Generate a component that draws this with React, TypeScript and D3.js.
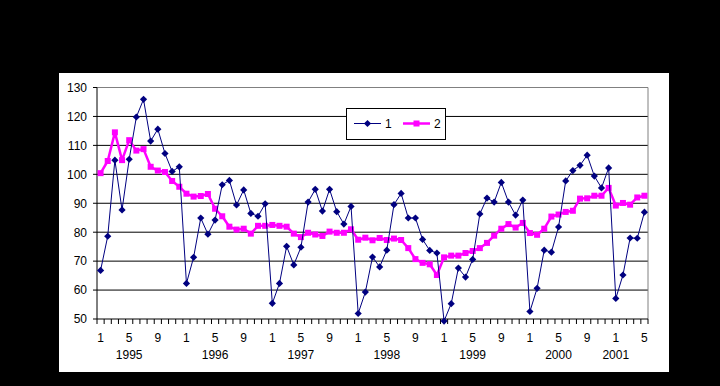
import * as d3 from 'd3';

// monthly categories, Jan 1995 .. May 2001
const startYear = 1995;
const categories: string[] = [];
for (let i = 0; i < 77; i++) {
  categories.push(`${startYear + Math.floor(i / 12)}-${(i % 12) + 1}`);
}

const series1 = [
  66.8, 78.6, 104.9, 87.7, 105.2, 119.8, 125.9, 111.5, 115.6, 107.2, 101.0, 102.6,
  62.3, 71.3, 84.9, 79.3, 84.2, 96.4, 97.9, 89.4, 94.6, 86.5, 85.5, 89.8,
  55.4, 62.3, 75.1, 68.7, 74.8, 90.4, 94.8, 87.3, 94.8, 87.1, 82.8, 88.9,
  51.9, 59.3, 71.4, 68.0, 73.8, 89.5, 93.4, 84.9, 84.9, 77.5, 73.7, 72.8,
  49.3, 55.3, 67.6, 64.5, 70.6, 86.3, 91.8, 90.4, 97.2, 90.4, 85.9, 91.1,
  52.6, 60.6, 73.8, 73.1, 81.8, 97.7, 101.3, 103.1, 106.6, 99.4, 95.3, 102.2,
  57.1, 65.2, 78.0, 77.9, 86.9,
];

const series2 = [
  100.4, 104.6, 114.5, 104.9, 111.8, 108.2, 108.7, 102.6, 101.3, 100.8, 97.7, 95.7,
  93.3, 92.3, 92.5, 93.2, 88.1, 85.5, 81.9, 80.9, 81.2, 79.5, 82.2, 82.2,
  82.5, 82.2, 81.9, 79.5, 78.3, 79.8, 79.2, 78.7, 80.2, 79.8, 79.8, 81.0,
  77.4, 78.1, 77.2, 78.0, 77.3, 77.8, 77.3, 74.5, 70.7, 69.4, 68.9, 65.2,
  71.3, 71.9, 71.9, 72.8, 73.5, 74.5, 76.3, 78.8, 81.2, 82.8, 81.6, 83.2,
  79.7, 79.1, 81.2, 85.4, 86.1, 87.0, 87.4, 91.6, 91.7, 92.6, 92.6, 95.3,
  89.2, 90.1, 89.5, 92.0, 92.6,
];

const seriesNames = ['1', '2'];
const monthTickLabels = ['1', '5', '9'];
const yearLabels = ['1995', '1996', '1997', '1998', '1999', '2000', '2001'];
const yearLabelAt = ['1995-5', '1996-5', '1997-5', '1998-5', '1999-5', '2000-5', '2001-1'];
const yTicks = [50, 60, 70, 80, 90, 100, 110, 120, 130];

const W = 720, H = 386;
const plot = { left: 97, right: 648, top: 87.5, bottom: 319 };
const font = '"Liberation Sans", Arial, sans-serif';
const fs = 12;

export default function App() {
  const x = d3.scaleBand<string>().domain(categories).range([plot.left, plot.right]).padding(0);
  const y = d3.scaleLinear().domain([50, 130]).range([plot.bottom, plot.top]);
  const cx = (c: string) => (x(c) as number) + x.bandwidth() / 2;

  const line = d3.line<number>().x((_, i) => cx(categories[i])).y(d => y(d));

  const boundaries = d3.range(categories.length + 1).map(i => plot.left + i * x.bandwidth());

  const diamond = (px: number, py: number, r: number) =>
    `M${px},${py - r}L${px + r},${py}L${px},${py + r}L${px - r},${py}Z`;

  return (
    <div style={{ position: 'fixed', left: 0, top: 0 }}>
      <svg width={W} height={H} style={{ display: 'block' }} fontFamily={font}>
        <rect x={0} y={0} width={W} height={H} fill="#000" />
        <rect x={59} y={73} width={610} height={299} fill="#fff" />

        {/* gridlines */}
        {yTicks.slice(1, -1).map(t => (
          <line key={t} x1={plot.left} x2={plot.right} y1={y(t)} y2={y(t)} stroke="#000" strokeWidth={1} />
        ))}
        {/* plot border top/right */}
        <path d={`M${plot.left},${y(130)}H${plot.right}V${plot.bottom}`} fill="none" stroke="#808080" strokeWidth={1} />

        {/* y axis */}
        <line x1={plot.left} x2={plot.left} y1={plot.top} y2={plot.bottom} stroke="#000" />
        {yTicks.map(t => (
          <g key={t}>
            <line x1={plot.left - 4} x2={plot.left} y1={y(t)} y2={y(t)} stroke="#000" />
            <text x={87} y={y(t)} dy="0.36em" textAnchor="end" fontSize={fs} fill="#000">{t}</text>
          </g>
        ))}

        {/* x axis */}
        <line x1={plot.left} x2={plot.right} y1={plot.bottom} y2={plot.bottom} stroke="#000" />
        {boundaries.map((bx, i) => (
          <line key={i} x1={bx} x2={bx} y1={plot.bottom} y2={plot.bottom + 5} stroke="#000" />
        ))}
        {categories.map(c => {
          const m = c.split('-')[1];
          return monthTickLabels.includes(m) ? (
            <text key={c} x={cx(c)} y={342} textAnchor="middle" fontSize={fs} fill="#000">{m}</text>
          ) : null;
        })}
        {yearLabels.map((yl, i) => (
          <text key={yl} x={cx(yearLabelAt[i])} y={359} textAnchor="middle" fontSize={fs} fill="#000">{yl}</text>
        ))}

        {/* series 2 */}
        <path d={line(series2) ?? ''} fill="none" stroke="#ff00ff" strokeWidth={2.5} strokeLinejoin="round" />
        {series2.map((v, i) => (
          <rect key={i} x={cx(categories[i]) - 3} y={y(v) - 3} width={6} height={6} fill="#ff00ff" />
        ))}

        {/* series 1 */}
        <path d={line(series1) ?? ''} fill="none" stroke="#000080" strokeWidth={1} />
        {series1.map((v, i) => (
          <path key={i} d={diamond(cx(categories[i]), y(v), 3.6)} fill="#000080" />
        ))}

        {/* legend */}
        <rect x={346.5} y={108.5} width={99} height={31} fill="#fff" stroke="#000" strokeWidth={1} />
        <line x1={354} x2={381} y1={123.5} y2={123.5} stroke="#000080" strokeWidth={1} />
        <path d={diamond(367.5, 123.5, 3.6)} fill="#000080" />
        <text x={385} y={123.5} dy="0.36em" fontSize={fs} fill="#000">{seriesNames[0]}</text>
        <line x1={403} x2={430} y1={123.5} y2={123.5} stroke="#ff00ff" strokeWidth={2.5} />
        <rect x={413.5} y={120.5} width={6} height={6} fill="#ff00ff" />
        <text x={434} y={123.5} dy="0.36em" fontSize={fs} fill="#000">{seriesNames[1]}</text>
      </svg>
    </div>
  );
}
